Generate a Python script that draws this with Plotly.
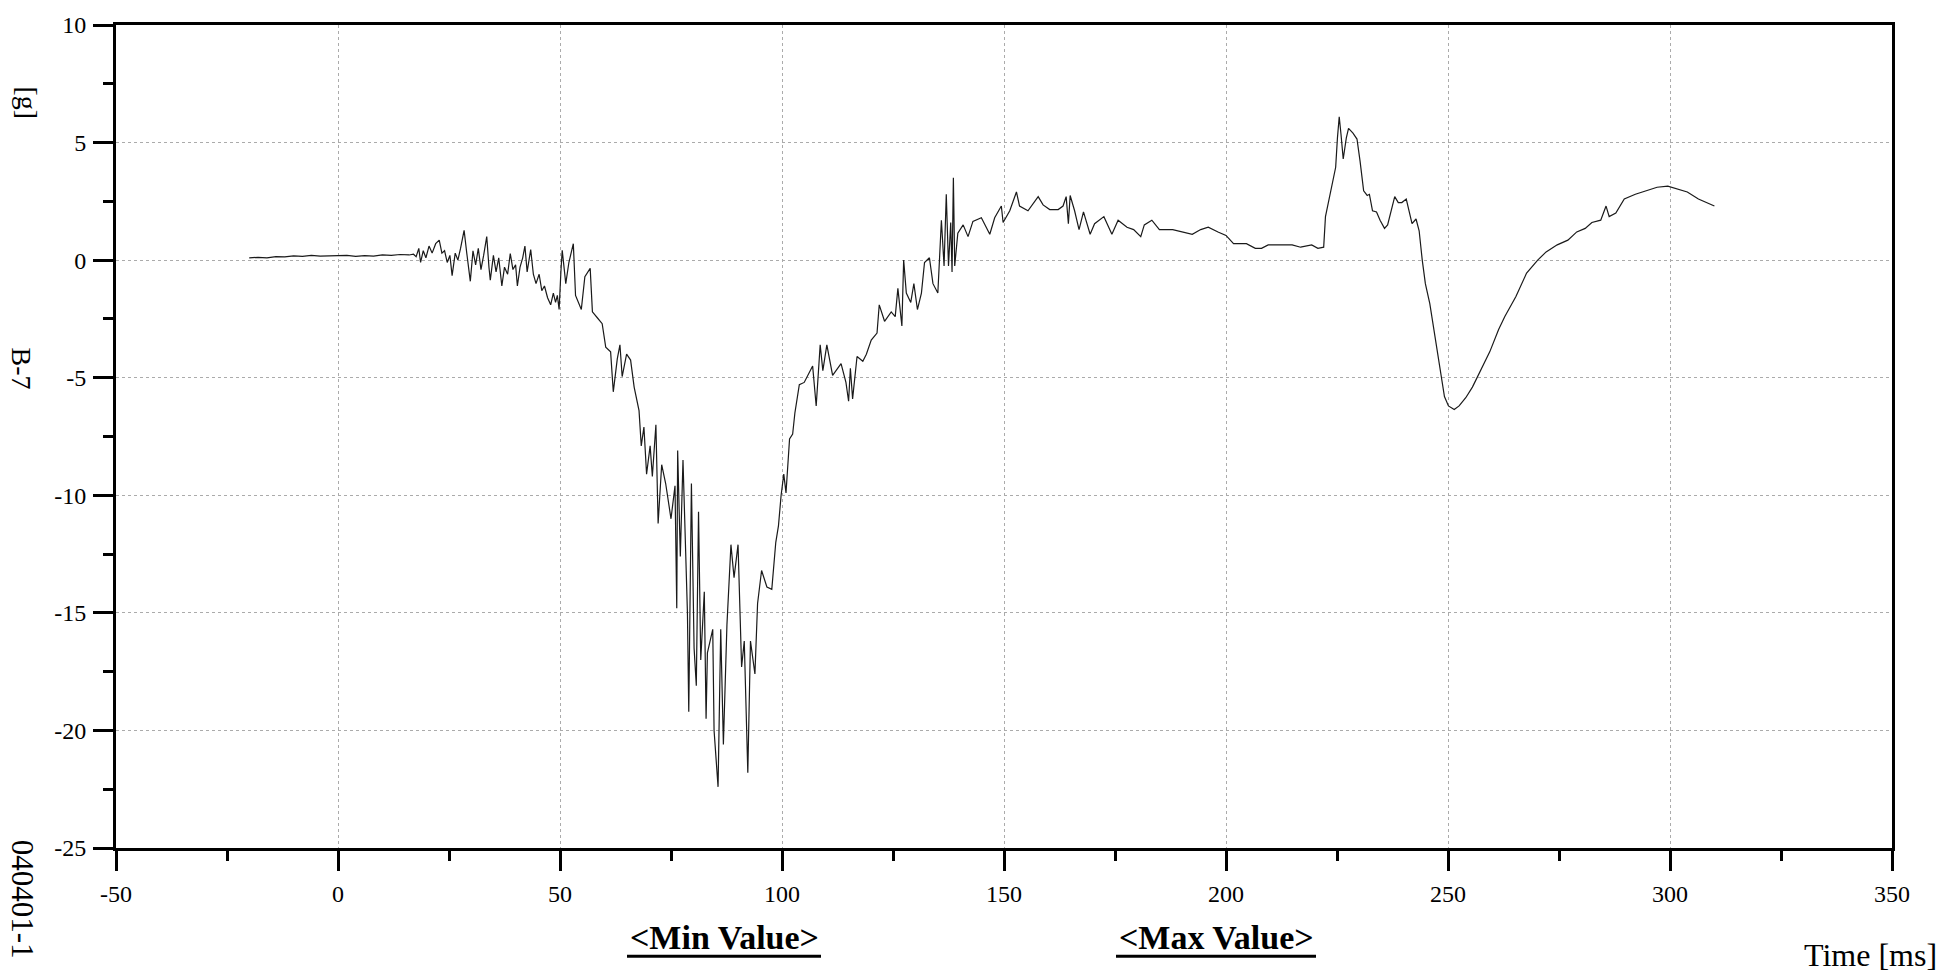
import plotly.graph_objects as go

# ---- data (time in ms, acceleration in g) ----
time_ms = [
    -20, -18, -16, -14, -12, -10, -8, -6, -4, -2, 0, 2, 4, 6, 8, 10, 12, 14, 16, 17,
    17.6, 18.2, 18.6, 19.2, 19.8, 20.5, 21.2, 22.0, 22.8, 23.4, 24.0, 24.6, 25.2, 25.7,
    26.4, 27.0, 27.6, 28.4, 29.0, 29.8, 30.4, 31.0, 31.6, 32.2, 32.8, 33.5, 34.0, 34.3,
    35.0, 35.6, 36.2, 36.9, 37.5, 38.2, 38.8, 39.4, 40.0, 40.4, 41.0, 41.6, 42.1, 42.6,
    43.4, 44.0, 44.6, 45.3, 45.9, 46.5, 47.2, 47.9, 48.5, 49.0, 49.4, 49.8, 50.2, 50.5,
    51.3, 52.0, 53.0, 53.5, 54.8, 55.6, 56.8, 57.3, 58.4, 59.5, 60.3, 61.4, 62.0, 62.9,
    63.5, 64.0, 65.0, 65.9, 66.7, 67.8, 68.3, 68.9, 69.5, 70.3, 70.8, 71.6, 72.1, 72.9,
    73.8, 75.0, 75.9, 76.3, 76.5, 77.1, 77.7, 78.7, 79.0, 79.6, 80.2, 80.7, 81.2, 81.7,
    82.5, 82.9, 83.2, 84.4, 84.7, 85.6, 86.2, 86.8, 87.6, 88.5, 89.2, 90.1, 90.9, 91.5,
    92.3, 92.9, 93.9, 94.5, 95.4, 96.6, 97.7, 98.6, 99.2, 99.8, 100.4, 100.9, 101.7, 102.4,
    102.9, 103.9, 105.0, 105.8, 106.9, 107.7, 108.6, 109.2, 110.1, 111.4, 113.3, 114.4, 115.0, 115.4,
    115.9, 116.9, 118.2, 119.0, 120.1, 121.4, 121.9, 123.1, 124.6, 125.5, 126.1, 127.0, 127.4, 128.0,
    129.0, 129.7, 130.5, 131.4, 132.1, 133.2, 134.0, 135.1, 135.9, 136.5, 137.0, 137.5, 138.0, 138.3,
    138.6, 138.9, 139.6, 140.8, 141.9, 143.0, 144.9, 146.8, 147.9, 149.4, 149.8, 151.3, 152.8, 153.5,
    155.4, 157.7, 158.8, 160.3, 162.2, 163.3, 164.0, 164.5, 164.9, 165.9, 166.9, 167.9, 169.4, 170.4,
    172.5, 174.3, 175.7, 177.7, 179.2, 180.8, 181.6, 183.3, 185.0, 188.0, 189.9, 192.4, 194.3, 196.0,
    198.2, 200.0, 201.7, 204.6, 206.6, 208.0, 209.5, 212.4, 214.9, 216.8, 219.3, 220.7, 222.0, 222.4,
    223.2, 224.0, 224.7, 225.1, 225.5, 225.9, 226.4, 227.1, 227.6, 228.6, 229.5, 230.2, 231.0, 231.8,
    232.3, 233.0, 233.9, 234.7, 235.7, 236.4, 237.4, 238.0, 238.8, 239.6, 240.6, 241.3, 241.9, 242.8,
    243.5, 244.2, 244.9, 245.9, 246.9, 247.7, 248.4, 249.2, 250.1, 251.4, 252.5, 254.0, 255.5, 257.4,
    259.4, 261.4, 262.8, 265.3, 267.7, 270.2, 272.1, 274.6, 277.0, 279.0, 280.9, 282.4, 284.4, 285.6,
    286.3, 287.8, 289.7, 292.2, 294.6, 297.1, 299.5, 301.5, 303.9, 306.4, 308.3, 310.0,
]
accel_g = [
    0.10, 0.12, 0.10, 0.15, 0.14, 0.18, 0.16, 0.20, 0.17, 0.19, 0.18, 0.20, 0.16, 0.19, 0.17, 0.22, 0.20, 0.24, 0.22, 0.25,
    0.15, 0.50, -0.10, 0.40, 0.10, 0.60, 0.30, 0.70, 0.85, 0.30, 0.40, -0.10, 0.20, -0.66,
    0.30, 0.00, 0.50, 1.27, 0.30, -0.90, 0.40, -0.20, 0.50, -0.40, 0.20, 1.00, -0.30, -0.85,
    0.20, -0.50, 0.10, -1.10, -0.30, -0.60, 0.28, -0.40, -0.20, -1.10, -0.30, 0.10, 0.60, -0.50,
    0.45, -0.60, -1.00, -0.60, -1.30, -1.10, -1.60, -1.90, -1.40, -1.80, -1.50, -2.10, -0.50, 0.42,
    -1.00, -0.10, 0.70, -1.50, -2.10, -0.70, -0.35, -2.20, -2.45, -2.70, -3.70, -3.90, -5.60, -4.20,
    -3.60, -4.95, -4.00, -4.25, -5.40, -6.40, -7.90, -7.10, -9.10, -7.90, -9.20, -7.00, -11.20, -8.70,
    -9.50, -11.00, -9.60, -14.80, -8.10, -12.60, -8.50, -15.00, -19.20, -9.50, -16.50, -18.10, -10.70, -17.00,
    -14.10, -19.50, -16.70, -15.70, -20.00, -22.40, -15.70, -20.60, -15.50, -12.10, -13.50, -12.10, -17.30, -16.20,
    -21.80, -16.20, -17.60, -14.60, -13.20, -13.90, -14.00, -12.00, -11.30, -10.00, -9.10, -9.90, -7.60, -7.40,
    -6.50, -5.30, -5.20, -4.90, -4.50, -6.20, -3.60, -4.70, -3.60, -4.90, -4.40, -5.20, -6.00, -4.60,
    -5.90, -4.10, -4.30, -4.00, -3.40, -3.10, -1.90, -2.60, -2.20, -2.40, -1.20, -2.80, 0.00, -1.40,
    -1.80, -1.00, -2.10, -1.40, -0.10, 0.10, -1.00, -1.40, 1.70, -0.25, 2.80, -0.25, 1.60, -0.50,
    3.50, -0.25, 1.15, 1.50, 1.00, 1.65, 1.80, 1.10, 1.80, 2.30, 1.60, 2.10, 2.90, 2.30,
    2.10, 2.70, 2.35, 2.15, 2.15, 2.30, 2.70, 1.55, 2.75, 2.10, 1.30, 2.05, 1.10, 1.55,
    1.85, 1.10, 1.70, 1.40, 1.30, 1.00, 1.50, 1.70, 1.30, 1.30, 1.20, 1.10, 1.30, 1.40,
    1.20, 1.05, 0.70, 0.70, 0.50, 0.50, 0.65, 0.65, 0.65, 0.55, 0.65, 0.50, 0.55, 1.85,
    2.55, 3.40, 3.95, 5.20, 6.10, 5.35, 4.30, 5.20, 5.60, 5.40, 5.15, 4.20, 2.95, 2.75,
    2.80, 2.10, 2.05, 1.70, 1.35, 1.50, 2.25, 2.70, 2.45, 2.45, 2.60, 2.10, 1.55, 1.75,
    1.25, 0.00, -1.00, -1.85, -3.10, -4.10, -4.95, -5.80, -6.20, -6.35, -6.20, -5.85, -5.40, -4.65,
    -3.90, -2.95, -2.40, -1.55, -0.55, 0.00, 0.35, 0.65, 0.85, 1.20, 1.35, 1.60, 1.70, 2.30,
    1.85, 2.00, 2.60, 2.80, 2.95, 3.10, 3.15, 3.05, 2.90, 2.60, 2.45, 2.30,
]

x_ticks = [-50, 0, 50, 100, 150, 200, 250, 300, 350]
y_ticks = [-25, -20, -15, -10, -5, 0, 5, 10]

SERIF = "Liberation Serif"

fig = go.Figure()
fig.add_trace(go.Scatter(
    x=time_ms, y=accel_g, mode="lines",
    line=dict(color="#1a1a1a", width=1.2),
    showlegend=False, hoverinfo="skip",
))

axis_common = dict(
    showline=True, linecolor="black", linewidth=3, mirror=True,
    ticks="outside", ticklen=20, tickwidth=3, tickcolor="black",
    showgrid=True, gridcolor="#ababab", gridwidth=1, griddash="dot",
    zeroline=False,
    tickfont=dict(family=SERIF, size=24, color="black"),
)

fig.update_xaxes(
    range=[-50, 350], tickvals=x_ticks, ticktext=[str(v) for v in x_ticks],
    minor=dict(dtick=25, tick0=-50, ticks="outside", ticklen=10, tickwidth=3,
               tickcolor="black", showgrid=False),
    ticklabelstandoff=2,
    **axis_common,
)
fig.update_yaxes(
    range=[-25, 10], tickvals=y_ticks, ticktext=[str(v) for v in y_ticks],
    minor=dict(dtick=2.5, tick0=-25, ticks="outside", ticklen=10, tickwidth=3,
               tickcolor="black", showgrid=False),
    ticklabelstandoff=2,
    **axis_common,
)

L, R, T, B = 116, 1892, 19, 848
W, H = 1944, 975


def px(xp):
    return (xp - L) / (R - L)


def py(yp):
    return (B - yp) / (B - T)


annots = [
    dict(text="[g]", x=px(28), y=py(97), textangle=90, size=28),
    dict(text="B-7", x=px(22), y=py(365), textangle=90, size=28),
    dict(text="040401-1", x=px(22), y=py(899), textangle=90, size=31),
    dict(text="<b>&lt;Min Value&gt;</b>", x=px(724), y=py(938), textangle=0, size=34),
    dict(text="<b>&lt;Max Value&gt;</b>", x=px(1216), y=py(938), textangle=0, size=34),
    dict(text="Time [ms]", x=px(1870), y=py(956), textangle=0, size=32),
]
for a in annots:
    fig.add_annotation(
        text=a["text"], x=a["x"], y=a["y"], xref="paper", yref="paper",
        xanchor="center", yanchor="middle", textangle=a["textangle"],
        showarrow=False, font=dict(family=SERIF, size=a["size"], color="black"),
    )

# underlines of the bold captions
for x0, x1 in [(627, 821), (1116, 1316)]:
    fig.add_shape(type="line", xref="paper", yref="paper",
                  x0=px(x0), x1=px(x1), y0=py(957), y1=py(957),
                  line=dict(color="black", width=3))

fig.update_layout(
    width=W, height=H,
    margin=dict(l=L, r=W - R, t=T, b=H - B),
    paper_bgcolor="white", plot_bgcolor="white",
)

fig.write_html(
    "out.html",
    config={"displayModeBar": False},
    post_script="document.body.style.margin='0';document.body.style.overflow='hidden';",
)
